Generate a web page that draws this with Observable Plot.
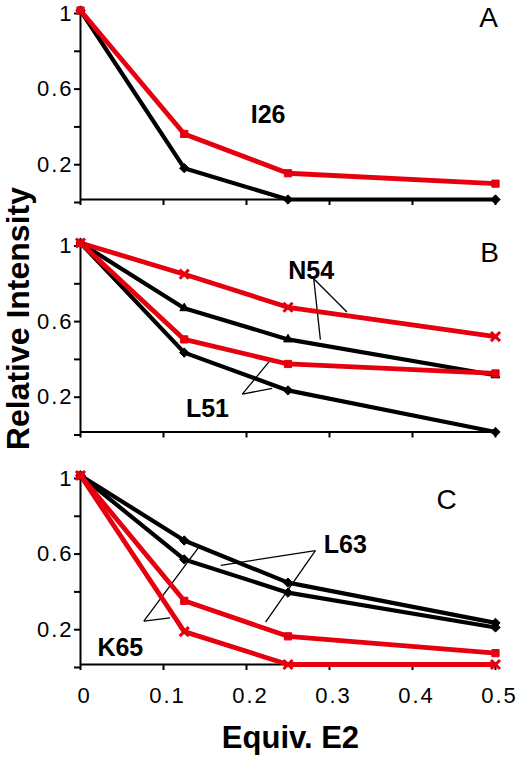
<!DOCTYPE html>
<html>
<head>
<meta charset="utf-8">
<script src="https://cdn.jsdelivr.net/npm/d3@7"></script>
<script src="https://cdn.jsdelivr.net/npm/@observablehq/plot@0.6"></script>
<style>
  html, body { margin: 0; padding: 0; background: #fff; }
  svg [aria-label="y-axis tick label"] text,
  svg [aria-label="x-axis tick label"] text { letter-spacing: 2px; }
</style>
</head>
<body>
<div id="chart"></div>
<script>
// ---- data ----
const xValues = [0, 0.125, 0.25, 0.5];
const panels = ["A", "B", "C"];
const xTicks = [0, 0.1, 0.2, 0.3, 0.4, 0.5];
const xTickLabels = ["0", "0.1", "0.2", "0.3", "0.4", "0.5"];
const yTicks = [0, 0.2, 0.4, 0.6, 0.8, 1];
const yTickLabels = ["", "0.2", "", "0.6", "", "1"];

// Panel A — I26
const i26Black = [1, 0.166, 0, 0];
const i26Red = [1, 0.347, 0.139, 0.084];
// Panel B — N54, L51
const n54Red = [1, 0.835, 0.66, 0.505];
const n54Black = [1, 0.655, 0.49, 0.30];
const l51Red = [1, 0.49, 0.36, 0.31];
const l51Black = [1, 0.42, 0.22, 0];
// Panel C — L63, K65
const k65Black = [1, 0.656, 0.433, 0.22];
const l63Black = [1, 0.556, 0.38, 0.196];
const l63Red = [1, 0.337, 0.149, 0.06];
const k65Red = [1, 0.174, 0, 0];

// residue labels (data coordinates)
const labelText = ["I26", "N54", "L51", "L63", "K65"];
const labelPanel = ["A", "B", "B", "C", "C"];
const labelX = [0.226, 0.278, 0.153, 0.319, 0.048];
const labelY = [0.449, 0.85, 0.121, 0.63, 0.087];

// pointer lines from labels to curves (data coordinates)
const pointerPanel = ["B", "B", "B", "B", "C", "C", "C", "C"];
const pointerFromX = [0.281, 0.281, 0.195, 0.195, 0.283, 0.283, 0.0763, 0.0763];
const pointerFromY = [0.811, 0.811, 0.2005, 0.2005, 0.603, 0.603, 0.229, 0.229];
const pointerToX = [0.321, 0.289, 0.227, 0.231, 0.169, 0.223, 0.1425, 0.108];
const pointerToY = [0.635, 0.489, 0.371, 0.231, 0.524, 0.224, 0.621, 0.247];

// panel letters (data coordinates)
const letterX = [0.4916, 0.4928, 0.441];
const letterY = [0.96, 0.945, 0.868];

const xTitle = "Equiv. E2";
const yTitle = "Relative Intensity";
const xTitleX = 0.253;
const yTitleY = 0.6;

// ---- styling ----
const BLACK = "#000000";
const RED = "#e6000f";
const FONT = "'Liberation Sans', Arial, Helvetica, sans-serif";

const seriesSpec = [
  ["A", "I26-black", i26Black, BLACK, "diamond2"],
  ["A", "I26-red", i26Red, RED, "square2"],
  ["B", "N54-black", n54Black, BLACK, "triangle2"],
  ["B", "L51-black", l51Black, BLACK, "diamond2"],
  ["B", "N54-red", n54Red, RED, "times"],
  ["B", "L51-red", l51Red, RED, "square2"],
  ["C", "K65-black", k65Black, BLACK, "diamond2"],
  ["C", "L63-black", l63Black, BLACK, "diamond2"],
  ["C", "L63-red", l63Red, RED, "square2"],
  ["C", "K65-red", k65Red, RED, "times"]
];

const rows = seriesSpec.flatMap(([panel, id, vals, color, symbol]) =>
  vals.map((v, i) => ({panel, id, x: xValues[i], y: v, color, symbol})));

const labels = labelText.map((t, i) => ({text: t, panel: labelPanel[i], x: labelX[i], y: labelY[i]}));
const pointers = pointerPanel.map((p, i) => ({panel: p, x1: pointerFromX[i], y1: pointerFromY[i], x2: pointerToX[i], y2: pointerToY[i]}));
const letters = panels.map((p, i) => ({panel: p, x: letterX[i], y: letterY[i]}));

const blackRows = rows.filter(d => d.color === BLACK);
const redRows = rows.filter(d => d.color === RED);

const dotMarks = ["diamond2", "triangle2", "square2"].map(sym =>
  Plot.dot(rows.filter(d => d.symbol === sym), {
    x: "x", y: "y", fy: "panel", symbol: sym, r: sym === "square2" ? 4.6 : 4.2,
    fill: "color", stroke: "color", strokeWidth: 1
  }));

const chart = Plot.plot({
  width: 517,
  height: 759,
  marginLeft: 80,
  marginRight: 22,
  marginTop: 10,
  marginBottom: 95,
  style: {fontFamily: FONT, background: "#fff", color: "#000"},
  x: {domain: [0, 0.5]},
  y: {domain: [0, 1]},
  fy: {domain: panels, paddingInner: 0.187, paddingOuter: 0, round: false, axis: null},
  color: {type: "identity"},
  marks: [
    Plot.ruleX([0], {stroke: BLACK, strokeWidth: 2}),
    Plot.ruleY([0], {stroke: BLACK, strokeWidth: 2}),
    Plot.axisY({ticks: yTicks, tickFormat: d => yTickLabels[yTicks.indexOf(d)], tickSize: 6, tickPadding: 1,
      fontSize: 22, strokeWidth: 2, label: null, dy: 3}),
    Plot.axisX({ticks: xTicks, tickFormat: () => "", tickSize: 6, strokeWidth: 2, label: null, facetAnchor: null}),
    Plot.axisX({ticks: xTicks, tickFormat: d => xTickLabels[xTicks.indexOf(d)], tickSize: 0, tickPadding: 23,
      fontSize: 22, label: null, facetAnchor: "bottom", dx: 4}),
    Plot.link(pointers, {x1: "x1", y1: "y1", x2: "x2", y2: "y2", fy: "panel", stroke: BLACK, strokeWidth: 1.3}),
    Plot.line(blackRows, {x: "x", y: "y", z: "id", fy: "panel", stroke: "color", strokeWidth: 4.2}),
    Plot.line(redRows, {x: "x", y: "y", z: "id", fy: "panel", stroke: "color", strokeWidth: 4.8}),
    ...dotMarks,
    Plot.dot(rows.filter(d => d.symbol === "times"), {
      x: "x", y: "y", fy: "panel", symbol: "times", r: 4.2, stroke: "color", strokeWidth: 3
    }),
    Plot.text(labels, {x: "x", y: "y", fy: "panel", text: "text",
      fontSize: 25, fontWeight: "bold", fill: BLACK}),
    Plot.text(letters, {x: "x", y: "y", fy: "panel", text: "panel", fontSize: 28, fill: BLACK}),
    Plot.text([yTitle], {fy: () => "B", y: () => yTitleY, frameAnchor: "left", rotate: -90, dx: -62,
      textAnchor: "middle", lineAnchor: "middle",
      text: d => d, fontSize: 32, fontWeight: "bold", fill: BLACK}),
    Plot.text([xTitle], {fy: () => "C", x: () => xTitleX, frameAnchor: "bottom", dy: 73.5,
      textAnchor: "middle", lineAnchor: "middle",
      text: d => d, fontSize: 31, fontWeight: "bold", fill: BLACK})
  ]
});

document.getElementById("chart").appendChild(chart);
</script>
</body>
</html>
